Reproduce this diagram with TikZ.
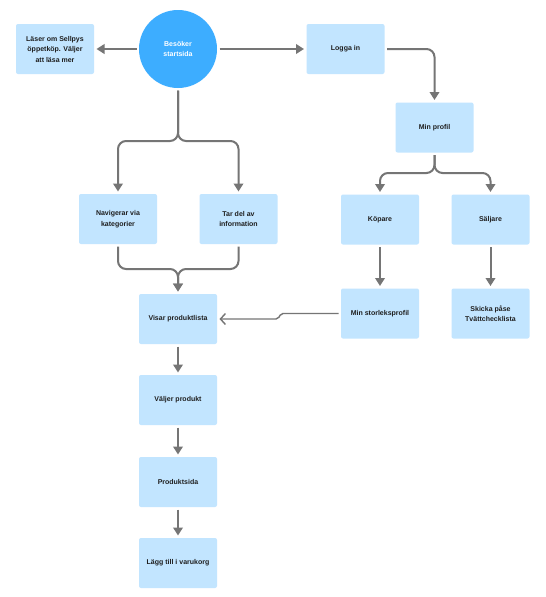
\documentclass[tikz,border=0pt]{standalone}
\usepackage{fontspec}
\setmainfont{Liberation Sans}
\usetikzlibrary{arrows.meta}
\definecolor{boxblue}{HTML}{C2E5FF}
\definecolor{circblue}{HTML}{3DADFF}
\definecolor{arrgray}{HTML}{757575}
\definecolor{txt}{HTML}{1E1E1E}
\tikzset{
  stepbox/.style={fill=boxblue, rounded corners=2pt, minimum width=78pt, minimum height=50pt,
    align=center, inner sep=2pt, outer sep=2.5pt, text=txt,
    font=\fontsize{7}{10.5}\selectfont\bfseries},
  startcirc/.style={circle, fill=circblue, minimum size=78pt, inner sep=0pt, outer sep=2.5pt,
    align=center, text=white, font=\fontsize{7}{10.5}\selectfont\bfseries},
  arr/.style={draw=arrgray, line width=2pt, rounded corners=8pt,
    -{Triangle[width=9.5pt,length=8pt]}},
  openarr/.style={draw=arrgray, line width=1.4pt, rounded corners=2pt,
    -{Straight Barb[length=5pt,width=11pt]}}
}
\begin{document}
\begin{tikzpicture}[x=1pt,y=-1pt]
\useasboundingbox (0,0) rectangle (546,597);
\fill[white] (0,0) rectangle (546,597);

\node[startcirc] (start) at (178,49) {Besöker\\startsida};
\node[stepbox] (laser) at (55,49) {Läser om Sellpys\\öppetköp. Väljer\\att läsa mer};
\node[stepbox] (logga) at (345.5,49) {Logga in};
\node[stepbox] (profil) at (434.5,127.5) {Min profil};
\node[stepbox] (nav) at (118,219) {Navigerar via\\kategorier};
\node[stepbox] (tar) at (238.5,219) {Tar del av\\information};
\node[stepbox] (kop) at (380,219.5) {Köpare};
\node[stepbox] (salj) at (490.5,219.5) {Säljare};
\node[stepbox] (storlek) at (380,313.5) {Min storleksprofil};
\node[stepbox] (skicka) at (490.5,313.5) {Skicka påse\\Tvättchecklista};
\node[stepbox] (visar) at (178,319) {Visar produktlista};
\node[stepbox] (valjer) at (178,400) {Väljer produkt};
\node[stepbox] (prod) at (178,482) {Produktsida};
\node[stepbox] (lagg) at (178,563) {Lägg till i varukorg};

\coordinate (fork1) at (178,141);
\coordinate (fork2) at (434.5,173);
\coordinate (merge) at (178,269);
\coordinate (jogA) at (281,313.5);
\coordinate (jogB) at (278,319);

\draw[arr] (start.west) -- (laser.east);
\draw[arr] (start.east) -- (logga.west);
\draw[arr] (logga.east) -| (profil.north);
\draw[arr] (start.south) -- (fork1) -| (nav.north);
\draw[arr] (start.south) -- (fork1) -| (tar.north);
\draw[arr] (profil.south) -- (fork2) -| (kop.north);
\draw[arr] (profil.south) -- (fork2) -| (salj.north);
\draw[arr] (kop.south) -- (storlek.north);
\draw[arr] (salj.south) -- (skicka.north);
\draw[arr] (nav.south) |- (merge) -- (visar.north);
\draw[arr] (tar.south) |- (merge) -- (visar.north);
\draw[openarr] (storlek.west) -- (jogA) -- (jogB) -- (visar.east);
\draw[arr] (visar.south) -- (valjer.north);
\draw[arr] (valjer.south) -- (prod.north);
\draw[arr] (prod.south) -- (lagg.north);
\end{tikzpicture}
\end{document}
